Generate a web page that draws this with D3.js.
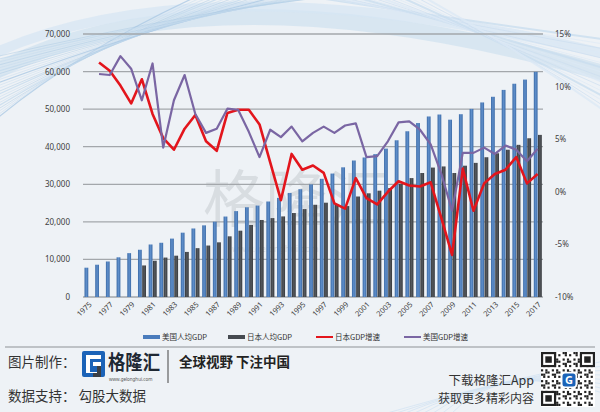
<!DOCTYPE html>
<html><head><meta charset="utf-8">
<script src="https://cdn.jsdelivr.net/npm/d3@7"></script>
<style>
html,body{margin:0;padding:0;background:#eef2f6;}
svg{display:block;}
</style></head><body>
<svg id="c" width="600" height="412"></svg>
<script>
// ---------------- DATA ----------------
const years = [1975,1976,1977,1978,1979,1980,1981,1982,1983,1984,1985,1986,1987,1988,1989,1990,1991,1992,1993,1994,1995,1996,1997,1998,1999,2000,2001,2002,2003,2004,2005,2006,2007,2008,2009,2010,2011,2012,2013,2014,2015,2016,2017];
const tickYears = [1975,1977,1979,1981,1983,1985,1987,1989,1991,1993,1995,1997,1999,2001,2003,2005,2007,2009,2011,2013,2015,2017];
// 美国人均GDP (USD)
const usGdpPc = [7801,8592,9453,10565,11674,12575,13976,14434,15544,17121,18237,19071,20039,21417,22857,23889,24342,25419,26387,27695,28691,29968,31459,32854,34516,36330,37134,38023,39497,41712,44115,46299,48050,48570,47195,48651,50066,51784,53291,55124,56763,57867,59928];
// 日本人均GDP (USD)
const jpGdpPc = [null,null,null,null,null,8400,9650,10500,11000,12000,13000,13700,14550,16150,17650,19200,20500,21000,21450,22350,23400,24550,25100,24500,24200,26750,27600,28300,29000,30150,31650,33000,34450,34750,33000,34950,35700,37200,38250,39200,40500,42250,43150];
// 日本GDP增速 (%)
const jpGrowth = [null,12.3,11.5,10.1,8.4,10.7,7.4,5.1,4.0,6.0,7.3,4.8,3.9,7.5,7.8,7.8,6.4,2.8,-0.8,3.6,2.1,2.5,1.8,-1.1,-1.6,1.3,-0.6,-1.2,0.0,1.0,0.6,0.5,0.9,-2.5,-6.0,2.2,-1.8,0.8,1.7,2.1,3.3,0.8,1.7];
// 美国GDP增速 (%)
const usGrowth = [null,11.2,11.1,12.9,11.7,8.7,12.2,4.2,8.7,11.1,7.4,5.6,6.0,7.9,7.8,5.7,3.3,5.9,5.2,6.2,4.8,5.6,6.2,5.6,6.3,6.5,3.3,3.4,4.8,6.6,6.7,5.9,4.5,1.7,-1.8,3.7,3.7,4.2,3.6,4.4,4.0,2.9,4.1];
const leftTicks = [0,10000,20000,30000,40000,50000,60000,70000];
const rightTicks = [-10,-5,0,5,10,15];
const seriesNames = ["美国人均GDP","日本人均GDP","日本GDP增速","美国GDP增速"];

// ---------------- SETUP ----------------
const W = 600, H = 412;
const P = {l:83, r:543, t:34, b:297};
const svg = d3.select("#c");
const FONT = "'Noto Sans','Liberation Sans',sans-serif";
const CJK = "'Noto Sans CJK SC','Noto Sans',sans-serif";

const defs = svg.append("defs");
const gBlue = defs.append("linearGradient").attr("id","gb").attr("x1","0").attr("x2","1").attr("y1","0").attr("y2","0");
gBlue.append("stop").attr("offset","0").attr("stop-color","#3b6aa6");
gBlue.append("stop").attr("offset","0.5").attr("stop-color","#5f8fcb");
gBlue.append("stop").attr("offset","1").attr("stop-color","#3b6aa6");
const gDark = defs.append("linearGradient").attr("id","gd").attr("x1","0").attr("x2","1").attr("y1","0").attr("y2","0");
gDark.append("stop").attr("offset","0").attr("stop-color","#35383c");
gDark.append("stop").attr("offset","0.5").attr("stop-color","#55595e");
gDark.append("stop").attr("offset","1").attr("stop-color","#35383c");

// background
svg.append("rect").attr("width",W).attr("height",H).attr("fill","#eef2f6");

// decorative swooshes
const deco = svg.append("g").attr("fill","none");
deco.append("path").attr("d","M-20,80 C100,10 300,-15 610,75").attr("stroke","#cfe1f0").attr("stroke-width",16).attr("opacity",0.7);
deco.append("path").attr("d","M-20,60 C100,0 300,-20 610,55").attr("stroke","#d6e6f3").attr("stroke-width",10).attr("opacity",0.7);
for (let k = 0; k < 22; k++) {
  deco.append("path")
    .attr("d",`M-5,${120 - k*3} Q${80 + k*6},${50 - k*2} ${200 + k*7},-5`)
    .attr("stroke", k%3===0 ? "#a8c7e3" : "#c3d9ec")
    .attr("stroke-width", k%4===0 ? 1.2 : 0.6)
    .attr("opacity",0.75);
}
for (let k = 0; k < 16; k++) {
  deco.append("path")
    .attr("d",`M${300 + k*8},-5 Q${460 + k*4},${20 + k*2} 610,${40 + k*5}`)
    .attr("stroke", k%2===0 ? "#c9ddef" : "#dce9f5")
    .attr("stroke-width", k%3===0 ? 2 : 0.8)
    .attr("opacity",0.8);
}
for (let k = 0; k < 8; k++) {
  deco.append("path")
    .attr("d",`M${380 + k*10},415 Q${500},${380 - k*3} 610,${360 + k*5}`)
    .attr("stroke","#d3e4f2").attr("stroke-width",1).attr("opacity",0.8);
}

// watermark
svg.append("text").attr("x",203).attr("y",222).attr("font-family",CJK).attr("font-size",62)
  .attr("fill","#8e959c").attr("opacity",0.22).text("格隆汇");
svg.append("text").attr("x",232).attr("y",252).attr("font-family",FONT).attr("font-size",9)
  .attr("fill","#8e959c").attr("opacity",0.25).text("www.gelonghui.com");

// ---------------- SCALES ----------------
const x = d3.scaleBand().domain(years).range([P.l, P.r]).padding(0);
const xi = d3.scaleBand().domain(["us","jp"]).range([1.5, x.bandwidth()-1.2]).paddingInner(0.1);
const yL = d3.scaleLinear().domain([0,70000]).range([P.b, P.t]);
const yR = d3.scaleLinear().domain([-10,15]).range([P.b, P.t]);

// gridlines
svg.append("g").selectAll("line").data(leftTicks).join("line")
  .attr("x1",P.l).attr("x2",P.r)
  .attr("y1",d=>yL(d)).attr("y2",d=>yL(d))
  .attr("stroke","#a3a7ab").attr("stroke-width",1.3);

// axes
const axL = svg.append("g").attr("transform",`translate(${P.l-10},0)`)
  .call(d3.axisLeft(yL).tickValues(leftTicks).tickSize(0).tickFormat(d3.format(",")));
axL.select(".domain").remove();
axL.selectAll("text").attr("font-family",FONT).attr("font-size",8).attr("fill","#404040");

const axR = svg.append("g").attr("transform",`translate(${P.r+9},0)`)
  .call(d3.axisRight(yR).tickValues(rightTicks).tickSize(0).tickFormat(d=>d+"%"));
axR.select(".domain").remove();
axR.selectAll("text").attr("font-family",FONT).attr("font-size",8).attr("fill","#404040");

// x labels
const axB = svg.append("g").attr("transform",`translate(0,${P.b})`)
  .call(d3.axisBottom(x).tickValues(tickYears).tickSize(0));
axB.select(".domain").remove();
axB.selectAll("text")
  .attr("font-family",FONT).attr("font-size",7.5).attr("fill","#404040")
  .attr("text-anchor","end")
  .attr("transform","translate(2,6) rotate(-45)")
  .attr("dy","0.35em").attr("y",0).attr("x",0);

// ---------------- BARS ----------------
const rows = years.map((y,i)=>({year:y, us:usGdpPc[i], jp:jpGdpPc[i], jg:jpGrowth[i], ug:usGrowth[i]}));
svg.append("g").selectAll("rect").data(rows).join("rect")
  .attr("x",d=>x(d.year)+xi("us")).attr("width",xi.bandwidth())
  .attr("y",d=>yL(d.us)).attr("height",d=>yL(0)-yL(d.us))
  .attr("fill","url(#gb)");
svg.append("g").selectAll("rect").data(rows.filter(d=>d.jp!=null)).join("rect")
  .attr("x",d=>x(d.year)+xi("jp")).attr("width",xi.bandwidth())
  .attr("y",d=>yL(d.jp)).attr("height",d=>yL(0)-yL(d.jp))
  .attr("fill","url(#gd)");

// ---------------- LINES ----------------
const cx = d=>x(d.year)+x.bandwidth()/2;
const lineJ = d3.line().defined(d=>d.jg!=null).x(cx).y(d=>yR(d.jg));
const lineU = d3.line().defined(d=>d.ug!=null).x(cx).y(d=>yR(d.ug));
svg.append("path").datum(rows).attr("d",lineJ).attr("fill","none")
  .attr("stroke","#e3151c").attr("stroke-width",2.6).attr("stroke-linejoin","round");
svg.append("path").datum(rows).attr("d",lineU).attr("fill","none")
  .attr("stroke","#7a66a3").attr("stroke-width",2.2).attr("stroke-linejoin","round");

// ---------------- LEGEND ----------------
const lg = svg.append("g").attr("font-family",CJK).attr("font-size",7.5).attr("fill","#333");
const legendItems = [
  {name:seriesNames[0], type:"rect", color:"#4a7cbc", x:143},
  {name:seriesNames[1], type:"rect", color:"#454a50", x:228},
  {name:seriesNames[2], type:"line", color:"#e3151c", x:316},
  {name:seriesNames[3], type:"line", color:"#7a66a3", x:404}
];
const LY = 337;
legendItems.forEach(it=>{
  if (it.type==="rect") lg.append("rect").attr("x",it.x).attr("y",LY-2).attr("width",17).attr("height",4).attr("fill",it.color);
  else lg.append("line").attr("x1",it.x).attr("x2",it.x+17).attr("y1",LY).attr("y2",LY).attr("stroke",it.color).attr("stroke-width",2);
  lg.append("text").attr("x",it.x+19).attr("y",LY+3).text(it.name);
});

// ---------------- FOOTER ----------------
svg.append("line").attr("x1",5).attr("x2",595).attr("y1",347).attr("y2",347).attr("stroke","#8d9196").attr("stroke-width",1.2);
const ft = svg.append("g").attr("font-family",CJK);
ft.append("text").attr("x",8).attr("y",367).attr("font-size",13.5).attr("fill","#333").text("图片制作：");
// logo icon
ft.append("rect").attr("x",82).attr("y",351).attr("width",23).attr("height",26).attr("rx",2).attr("fill","#1b63b8");
ft.append("path").attr("d","M86,355 H101 V359 H90 V372 H97 V366 H93 V362 H101 V373 H86 Z").attr("fill","#ffffff");
ft.append("path").attr("d","M97,366 H101 V377 H93 V373 H97 Z").attr("fill","#3a3f45");
ft.append("text").attr("x",108).attr("y",370).attr("font-size",20).attr("font-weight","bold").attr("fill","#1e2833")
  .attr("textLength",52).attr("lengthAdjust","spacingAndGlyphs").text("格隆汇");
ft.append("text").attr("x",109).attr("y",381).attr("font-family",FONT).attr("font-size",4.5).attr("fill","#555").text("www.gelonghui.com");
ft.append("line").attr("x1",168).attr("x2",168).attr("y1",350).attr("y2",383).attr("stroke","#444").attr("stroke-width",1);
ft.append("text").attr("x",179).attr("y",367).attr("font-size",13.5).attr("font-weight","bold").attr("fill","#222").text("全球视野 下注中国");
ft.append("text").attr("x",8).attr("y",401).attr("font-size",13.5).attr("fill","#333").text("数据支持： 勾股大数据");
ft.append("text").attr("x",534).attr("y",385).attr("text-anchor","end").attr("font-size",12.5).attr("fill","#333").text("下载格隆汇App");
ft.append("text").attr("x",534).attr("y",403).attr("text-anchor","end").attr("font-size",12).attr("fill","#333").text("获取更多精彩内容");

// QR code (decorative)
const qr = svg.append("g").attr("transform","translate(541,352)");
qr.append("rect").attr("width",54).attr("height",55).attr("fill","#fff");
const N = 25, cs = 54/N;
const cells = [];
for (let i=0;i<N;i++) for (let j=0;j<N;j++) {
  if (((i*31 + j*17 + i*j*7) % 5) < 2) cells.push([i,j]);
}
qr.selectAll("rect.c").data(cells).join("rect").attr("class","c")
  .attr("x",d=>d[0]*cs).attr("y",d=>d[1]*cs).attr("width",cs).attr("height",cs).attr("fill","#222");
[[0,0],[N-7,0],[0,N-7]].forEach(([i,j])=>{
  qr.append("rect").attr("x",i*cs).attr("y",j*cs).attr("width",7*cs).attr("height",7*cs).attr("fill","#222");
  qr.append("rect").attr("x",(i+1)*cs).attr("y",(j+1)*cs).attr("width",5*cs).attr("height",5*cs).attr("fill","#fff");
  qr.append("rect").attr("x",(i+2)*cs).attr("y",(j+2)*cs).attr("width",3*cs).attr("height",3*cs).attr("fill","#222");
});
qr.append("rect").attr("x",20).attr("y",20).attr("width",16).attr("height",16).attr("rx",3).attr("fill","#fff");
qr.append("rect").attr("x",21.5).attr("y",21.5).attr("width",13).attr("height",13).attr("rx",2.5).attr("fill","#1b63b8");
qr.append("text").attr("x",28).attr("y",32).attr("text-anchor","middle").attr("font-family",FONT).attr("font-weight","bold").attr("font-size",11).attr("fill","#fff").text("G");
</script>
</body></html>
